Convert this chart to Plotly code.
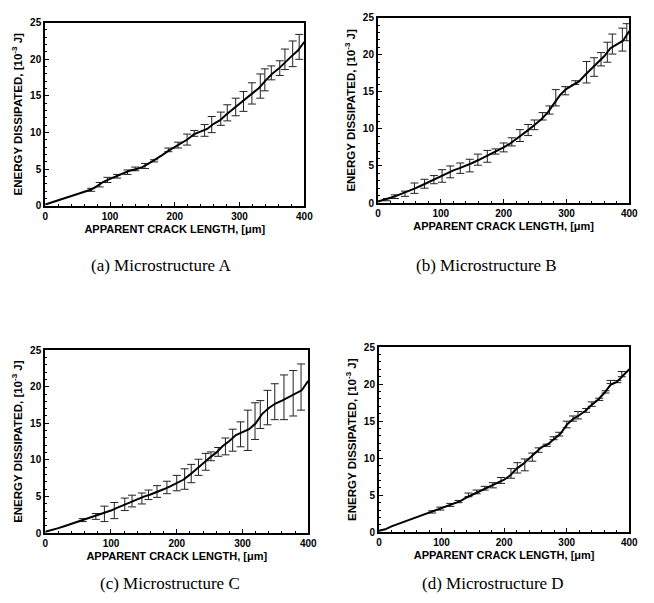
import plotly.graph_objects as go

# ---------------- data ----------------
line_x = [0, 10, 20, 30, 40, 50, 60, 70, 80, 90, 100, 110, 120, 130, 140, 150, 160, 170, 180, 190, 200,
          210, 220, 230, 240, 250, 260, 270, 280, 290, 300, 310, 320, 330, 340, 350, 360, 370, 380, 390, 400]

a_line_y = [0.2, 0.5, 0.8, 1.1, 1.4, 1.6, 1.9, 2.2, 2.7, 3.3, 3.7, 4.1, 4.4, 4.8, 5.0, 5.3, 5.8, 6.3, 6.9, 7.5, 8.0,
            8.5, 9.1, 9.8, 10.2, 10.5, 11.2, 11.7, 12.5, 13.2, 13.9, 14.7, 15.4, 16.1, 17.1, 18.0, 18.7, 19.6, 20.4, 21.2, 22.4]
a_eb_x = [71, 84, 96, 111, 127, 139, 154, 168, 190, 205, 219, 230, 246, 257, 271, 281, 294, 306, 319, 332, 339,
          349, 362, 370, 382, 392]
a_eb_lo = [2.0, 2.6, 3.2, 3.8, 4.3, 4.8, 5.1, 6.0, 7.4, 7.9, 8.3, 9.5, 9.5, 10.0, 11.0, 11.6, 12.3, 12.9, 13.9, 14.7,
           15.7, 17.2, 17.8, 18.6, 19.0, 20.0]
a_eb_hi = [2.4, 3.2, 3.9, 4.3, 4.9, 5.3, 5.8, 6.3, 7.9, 8.7, 9.8, 10.3, 11.1, 12.2, 12.8, 13.8, 14.7, 15.6, 16.8, 18.0,
           18.7, 19.1, 19.8, 21.4, 22.5, 23.4]

b_line_y = [0.2, 0.4, 0.7, 1.0, 1.3, 1.7, 2.0, 2.4, 2.8, 3.2, 3.6, 4.1, 4.4, 4.7, 5.0, 5.4, 5.8, 6.2, 6.7, 7.1, 7.5,
            8.0, 8.6, 9.2, 9.9, 10.6, 11.3, 12.2, 13.4, 14.6, 15.4, 15.9, 16.4, 17.3, 18.1, 18.9, 19.8, 20.9, 21.4, 21.9, 23.2]
b_eb_x = [14, 27, 43, 58, 74, 89, 102, 115, 131, 146, 159, 174, 187, 200, 213, 226, 239, 249, 262, 273, 283,
          298, 314, 332, 344, 355, 365, 373, 389, 396]
b_eb_lo = [0.3, 0.6, 0.9, 1.3, 2.0, 2.6, 2.8, 3.4, 4.0, 4.2, 5.1, 5.5, 6.6, 6.9, 7.7, 8.3, 9.1, 9.9, 11.2, 12.0, 13.1,
           14.6, 16.0, 16.2, 17.1, 18.5, 19.0, 20.1, 20.5, 21.9]
b_eb_hi = [0.6, 1.1, 1.6, 2.7, 3.2, 3.7, 4.5, 5.0, 5.4, 5.9, 6.6, 7.1, 7.3, 8.1, 8.8, 9.9, 10.6, 11.2, 12.2, 13.1, 15.3,
           15.7, 16.5, 19.1, 19.6, 20.3, 21.7, 22.8, 23.6, 24.2]

c_line_y = [0.2, 0.4, 0.7, 1.0, 1.3, 1.5, 1.8, 2.1, 2.4, 2.7, 3.1, 3.5, 3.9, 4.3, 4.7, 5.0, 5.3, 5.6, 6.0, 6.4, 6.8,
            7.3, 8.0, 8.8, 9.5, 10.3, 11.0, 11.9, 12.6, 13.4, 13.8, 14.2, 15.0, 16.3, 17.1, 17.7, 18.1, 18.6, 19.0, 19.5, 20.8]
c_eb_x = [57, 77, 90, 105, 121, 132, 147, 157, 170, 185, 200, 212, 222, 233, 244, 252, 263, 274, 285, 297, 308,
          319, 327, 338, 349, 363, 377, 389]
c_eb_lo = [1.6, 1.9, 1.6, 2.0, 3.1, 3.6, 4.0, 4.6, 4.9, 5.4, 5.8, 6.0, 6.9, 7.9, 8.6, 9.9, 10.5, 10.7, 11.2, 11.8, 11.3,
           12.8, 14.3, 14.8, 15.5, 15.5, 16.0, 16.8]
c_eb_hi = [2.0, 2.7, 3.7, 4.2, 4.8, 5.2, 5.5, 5.9, 6.5, 7.1, 7.9, 8.8, 9.4, 10.1, 10.9, 11.1, 11.7, 13.0, 14.2, 15.2, 16.8,
           17.8, 18.1, 19.5, 20.4, 21.6, 22.2, 23.1]

d_line_y = [0.2, 0.4, 0.8, 1.1, 1.4, 1.8, 2.1, 2.3, 2.6, 2.9, 3.2, 3.6, 3.9, 4.2, 4.7, 5.1, 5.5, 5.9, 6.3, 6.6, 7.1,
            7.7, 8.6, 9.2, 10.0, 10.8, 11.5, 11.9, 12.6, 13.3, 14.5, 15.3, 15.8, 16.4, 17.2, 17.9, 18.8, 19.9, 20.3, 21.2, 22.0]
d_eb_x = [85, 98, 114, 127, 143, 156, 169, 182, 195, 211, 221, 233, 245, 255, 268, 279, 288, 300, 310, 318, 331,
          340, 352, 362, 370, 381, 388]
d_eb_lo = [2.6, 3.0, 3.5, 4.0, 4.8, 5.2, 5.7, 6.0, 6.6, 7.3, 8.0, 8.3, 9.6, 10.8, 11.6, 12.5, 13.0, 14.1, 15.0, 15.3,
           16.2, 17.0, 17.8, 18.8, 20.1, 20.2, 21.0]
d_eb_hi = [2.9, 3.4, 3.9, 4.3, 5.3, 5.7, 6.2, 6.7, 7.4, 8.6, 9.4, 9.9, 10.7, 11.4, 11.9, 12.9, 13.5, 15.0, 15.7, 16.3,
           16.7, 17.6, 18.1, 19.1, 20.5, 20.5, 21.7]

captions = ["(a) Microstructure A", "(b) Microstructure B", "(c) Microstructure C", "(d) Microstructure D"]
x_title = "APPARENT CRACK LENGTH, [μm]"
y_title = "ENERGY DISSIPATED, [10<sup>-3</sup> J]"
x_ticks = [0, 100, 200, 300, 400]
y_ticks = [0, 5, 10, 15, 20, 25]

# ---------------- layout geometry ----------------
W, H = 654, 603
# plot boxes in pixels: (left, right, top, bottom)
boxes = [(43, 307, 17, 204), (382, 638, 12, 201), (43, 311, 351, 538), (383, 638, 348, 537)]
caption_pos = [(161, 265), (493, 265), (170, 589), (499, 589)]

panels = [
    (a_line_y, a_eb_x, a_eb_lo, a_eb_hi),
    (b_line_y, b_eb_x, b_eb_lo, b_eb_hi),
    (c_line_y, c_eb_x, c_eb_lo, c_eb_hi),
    (d_line_y, d_eb_x, d_eb_lo, d_eb_hi),
]

fig = go.Figure()
tickfont = dict(family="Liberation Sans", size=10, color="black", weight="bold")
xtitlefont = dict(family="Liberation Sans", size=11, color="black", weight="bold")
ytitlefont = dict(family="Liberation Sans", size=11.5, color="black", weight="bold")

for i, ((ly, ex, elo, ehi), (l, r, t, b)) in enumerate(zip(panels, boxes)):
    n = i + 1
    xa = "x" if n == 1 else f"x{n}"
    ya = "y" if n == 1 else f"y{n}"
    mid = [(lo + hi) / 2 for lo, hi in zip(elo, ehi)]
    half = [(hi - lo) / 2 for lo, hi in zip(elo, ehi)]
    fig.add_trace(go.Scatter(
        x=ex, y=mid, mode="markers", marker=dict(size=0.1, color="rgba(0,0,0,0)"),
        error_y=dict(type="data", array=half, visible=True, color="#222222", thickness=1, width=4),
        xaxis=xa, yaxis=ya, showlegend=False, hoverinfo="skip"))
    fig.add_trace(go.Scatter(
        x=line_x, y=ly, mode="lines", line=dict(color="black", width=2),
        xaxis=xa, yaxis=ya, showlegend=False))

    axcommon = dict(showline=True, linecolor="black", linewidth=2, mirror=True,
                    ticks="inside", ticklen=4, tickwidth=1, tickcolor="black",
                    showgrid=False, zeroline=False, tickfont=tickfont)
    xkey = "xaxis" if n == 1 else f"xaxis{n}"
    ykey = "yaxis" if n == 1 else f"yaxis{n}"
    fig.layout[xkey] = dict(
        domain=[l / W, r / W], anchor=ya, range=[0, 400], tickvals=x_ticks,
        minor=dict(dtick=20, ticks="inside", ticklen=2, tickcolor="black"),
        title=dict(text=x_title, font=xtitlefont, standoff=4), **axcommon)
    fig.layout[ykey] = dict(
        domain=[1 - b / H, 1 - t / H], anchor=xa, range=[0, 25], tickvals=y_ticks,
        minor=dict(dtick=1, ticks="inside", ticklen=2, tickcolor="black"),
        title=dict(text=y_title, font=ytitlefont, standoff=5), **axcommon)

for text, (cx, cy) in zip(captions, caption_pos):
    fig.add_annotation(text=text, x=cx / W, y=1 - cy / H, xref="paper", yref="paper",
                       showarrow=False, xanchor="center", yanchor="middle",
                       font=dict(family="Liberation Serif", size=17, color="black"))

fig.update_layout(width=W, height=H, margin=dict(l=0, r=0, t=0, b=0),
                  plot_bgcolor="white", paper_bgcolor="white")

fig.write_html("out.html")
